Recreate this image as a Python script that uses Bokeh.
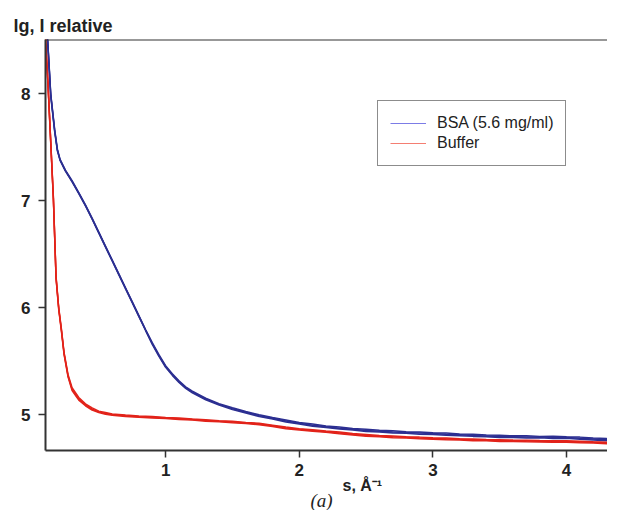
from bokeh.plotting import figure
from bokeh.models import Range1d, Span, Legend, LegendItem, FixedTicker, Title
from bokeh.embed import file_html
from bokeh.resources import INLINE

# ---- data ----
S_BSA = [0.10, 0.12, 0.14, 0.17, 0.19, 0.21, 0.25, 0.30, 0.35, 0.40,
         0.45, 0.50, 0.55, 0.60, 0.65, 0.70, 0.75, 0.80, 0.85, 0.90,
         0.95, 1.00, 1.05, 1.10, 1.15, 1.20, 1.30, 1.40, 1.50, 1.60,
         1.70, 1.80, 1.90, 2.00, 2.10, 2.20, 2.30, 2.40, 2.50, 2.60,
         2.70, 2.80, 2.90, 3.00, 3.10, 3.20, 3.30, 3.40, 3.50, 3.60,
         3.70, 3.80, 3.90, 4.00, 4.10, 4.20, 4.30, 4.40, 4.45]

BSA_1 = [8.85, 8.43, 7.99, 7.65, 7.47, 7.38, 7.28, 7.18, 7.07, 6.955,
         6.83, 6.70, 6.57, 6.44, 6.31, 6.18, 6.05, 5.92, 5.79, 5.664,
         5.551, 5.449, 5.374, 5.308, 5.252, 5.210, 5.145, 5.095, 5.055, 5.022,
         4.990, 4.965, 4.940, 4.918, 4.900, 4.885, 4.873, 4.862, 4.851, 4.845,
         4.838, 4.832, 4.827, 4.822, 4.816, 4.811, 4.805, 4.800, 4.795, 4.793,
         4.791, 4.789, 4.787, 4.785, 4.778, 4.771, 4.764, 4.758, 4.754]

BSA_2 = [8.86, 8.44, 8.00, 7.66, 7.48, 7.385, 7.285, 7.185, 7.075, 6.96,
         6.835, 6.705, 6.575, 6.445, 6.315, 6.185, 6.055, 5.925, 5.795, 5.672,
         5.559, 5.457, 5.382, 5.316, 5.259, 5.218, 5.152, 5.101, 5.064, 5.028,
         4.998, 4.972, 4.950, 4.926, 4.911, 4.893, 4.884, 4.870, 4.862, 4.853,
         4.849, 4.840, 4.838, 4.830, 4.827, 4.819, 4.816, 4.808, 4.806, 4.801,
         4.803, 4.796, 4.798, 4.792, 4.789, 4.780, 4.775, 4.767, 4.764]

BSA_3 = [8.84, 8.42, 7.98, 7.64, 7.465, 7.375, 7.275, 7.175, 7.065, 6.95,
         6.825, 6.695, 6.565, 6.435, 6.305, 6.175, 6.045, 5.915, 5.785, 5.656,
         5.543, 5.441, 5.366, 5.300, 5.245, 5.203, 5.138, 5.088, 5.046, 5.015,
         4.982, 4.958, 4.931, 4.911, 4.891, 4.878, 4.864, 4.855, 4.842, 4.838,
         4.828, 4.825, 4.817, 4.814, 4.806, 4.803, 4.796, 4.793, 4.786, 4.785,
         4.781, 4.782, 4.777, 4.778, 4.769, 4.763, 4.755, 4.750, 4.745]

S_BUF = [0.09, 0.10, 0.12, 0.14, 0.16, 0.18, 0.20, 0.22, 0.24, 0.27,
         0.30, 0.35, 0.40, 0.45, 0.50, 0.55, 0.60, 0.70, 0.80, 0.90,
         1.00, 1.10, 1.20, 1.30, 1.40, 1.50, 1.60, 1.70, 1.80, 1.90,
         2.00, 2.10, 2.20, 2.30, 2.40, 2.50, 2.60, 2.70, 2.80, 2.90,
         3.00, 3.10, 3.20, 3.30, 3.40, 3.50, 3.60, 3.70, 3.80, 3.90,
         4.00, 4.10, 4.20, 4.30, 4.40, 4.45]

BUF_1 = [8.75, 8.53, 8.08, 7.55, 7.02, 6.28, 5.99, 5.79, 5.57, 5.36,
         5.235, 5.145, 5.090, 5.050, 5.025, 5.010, 5.000, 4.988, 4.980, 4.974,
         4.968, 4.961, 4.953, 4.945, 4.937, 4.930, 4.922, 4.912, 4.895, 4.875,
         4.862, 4.851, 4.840, 4.828, 4.815, 4.805, 4.798, 4.792, 4.787, 4.781,
         4.776, 4.772, 4.768, 4.764, 4.760, 4.757, 4.755, 4.753, 4.751, 4.749,
         4.748, 4.744, 4.740, 4.735, 4.730, 4.728]

BUF_2 = [8.76, 8.54, 8.09, 7.56, 7.03, 6.29, 6.00, 5.80, 5.58, 5.372,
         5.250, 5.160, 5.100, 5.062, 5.032, 5.020, 5.006, 4.995, 4.986, 4.981,
         4.972, 4.968, 4.958, 4.952, 4.941, 4.937, 4.926, 4.918, 4.901, 4.883,
         4.868, 4.859, 4.846, 4.836, 4.822, 4.813, 4.804, 4.800, 4.793, 4.789,
         4.782, 4.780, 4.774, 4.771, 4.766, 4.764, 4.761, 4.760, 4.757, 4.756,
         4.754, 4.751, 4.746, 4.742, 4.736, 4.735]

BUF_3 = [8.74, 8.52, 8.07, 7.54, 7.01, 6.27, 5.98, 5.78, 5.56, 5.350,
         5.225, 5.135, 5.082, 5.041, 5.019, 5.003, 4.994, 4.982, 4.975, 4.967,
         4.963, 4.954, 4.948, 4.938, 4.932, 4.923, 4.917, 4.905, 4.889, 4.868,
         4.856, 4.844, 4.834, 4.820, 4.809, 4.797, 4.792, 4.784, 4.781, 4.773,
         4.770, 4.764, 4.762, 4.756, 4.754, 4.749, 4.748, 4.745, 4.744, 4.741,
         4.741, 4.736, 4.733, 4.727, 4.723, 4.721]

X_TICKS = [1, 2, 3, 4]
Y_TICKS = [5, 6, 7, 8]
X_RANGE = (0.101, 4.307)
Y_RANGE = (4.664, 8.505)

LABEL_BSA = "BSA (5.6 mg/ml)"
LABEL_BUF = "Buffer"
Y_TITLE = "lg, I relative"
X_TITLE = "s, Å\u207b\u00b9"
CAPTION = "(a)"

BLUE = "#2c2f91"
RED = "#e2231a"
INK = "#222222"
FONT = "Liberation Sans"

p = figure(width=607, height=510, output_backend="svg", toolbar_location=None,
           x_range=Range1d(*X_RANGE), y_range=Range1d(*Y_RANGE),
           min_border_left=45, min_border_top=39, min_border_bottom=60,
           min_border_right=0)
p.outline_line_color = None
p.grid.visible = False

# lighter legend sample lines (hidden underneath the data lines)
lb = p.line(S_BSA, BSA_1, line_color="#7c7ce6", line_width=1)
lr = p.line(S_BUF, BUF_1, line_color="#f47e72", line_width=1)

for ys in (BSA_1, BSA_2, BSA_3):
    p.line(S_BSA, ys, line_color=BLUE, line_width=1.5)
for ys in (BUF_1, BUF_2, BUF_3):
    p.line(S_BUF, ys, line_color=RED, line_width=1.5)

legend = Legend(items=[LegendItem(label=LABEL_BSA, renderers=[lb]),
                       LegendItem(label=LABEL_BUF, renderers=[lr])],
                location=(332, 284), margin=0, padding=12, spacing=0,
                glyph_width=36, glyph_height=20, label_height=20,
                label_standoff=11, label_text_font=FONT,
                label_text_font_size="16px", label_text_color=INK,
                border_line_color="#1a1a1a", border_line_width=1.5,
                background_fill_color="white", background_fill_alpha=1)
p.add_layout(legend)

for ax in (p.xaxis[0], p.yaxis[0]):
    ax.axis_line_color = "#333333"
    ax.axis_line_width = 2
    ax.major_tick_line_color = "#333333"
    ax.major_tick_line_width = 1.5
    ax.major_tick_in = 0
    ax.major_tick_out = 7
    ax.minor_tick_line_color = None
    ax.major_label_text_font = FONT
    ax.major_label_text_font_size = "17px"
    ax.major_label_text_font_style = "bold"
    ax.major_label_text_color = INK
p.xaxis.ticker = FixedTicker(ticks=X_TICKS)
p.yaxis.ticker = FixedTicker(ticks=Y_TICKS)
p.xaxis.major_label_standoff = 6
p.yaxis.major_label_standoff = 8

# top border of the frame
p.add_layout(Span(location=Y_RANGE[1], dimension="width",
                  line_color="#333333", line_width=2))

p.add_layout(Title(text=Y_TITLE, align="left", offset=-32, standoff=8,
                   text_font=FONT, text_font_size="18px", text_font_style="bold",
                   text_color=INK), "above")
p.add_layout(Title(text=X_TITLE, align="left", offset=297, standoff=-8,
                   text_font=FONT, text_font_size="16px", text_font_style="bold",
                   text_color=INK), "below")
p.add_layout(Title(text=CAPTION, align="left", offset=265, standoff=-3,
                   text_font="Liberation Serif", text_font_size="19px",
                   text_font_style="italic", text_color=INK), "below")

open("out.html", "w").write(file_html(p, INLINE))
